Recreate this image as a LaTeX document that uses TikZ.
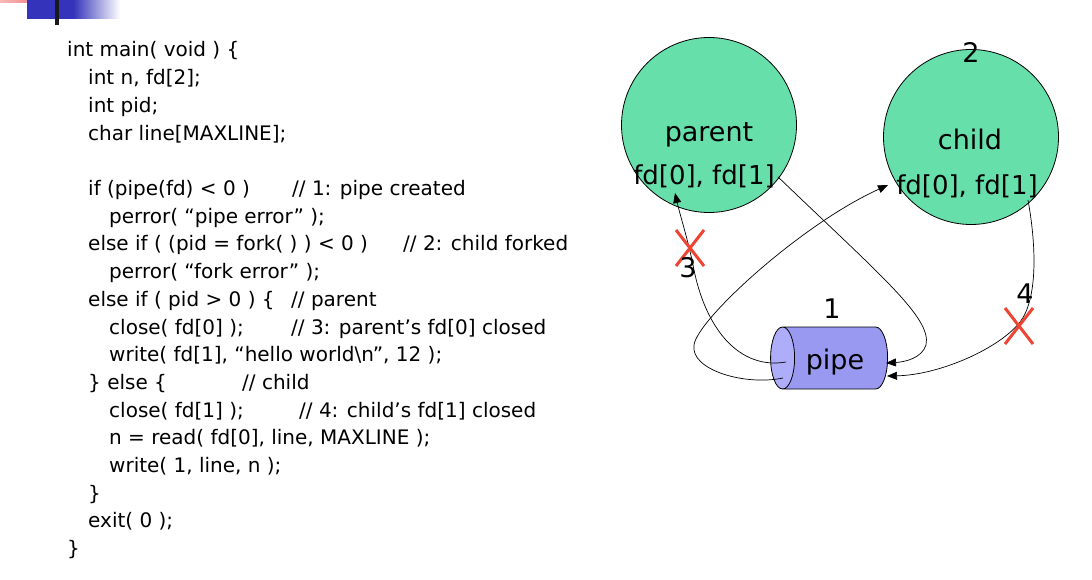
\documentclass[tikz,border=0pt]{standalone}
\usepackage{fontspec}
\setmainfont{DejaVu Sans}
\usetikzlibrary{arrows.meta,shapes.geometric,shapes.misc}
\definecolor{procfill}{HTML}{66DFAB}
\definecolor{pipebody}{HTML}{9999F2}
\definecolor{pipeface}{HTML}{ADADFA}
\definecolor{crossred}{HTML}{EE4433}
\definecolor{slideblue}{HTML}{3333BB}
\definecolor{slidepink}{HTML}{F07878}
\definecolor{slidepinklight}{HTML}{F8B8B8}

\begin{document}
\begin{tikzpicture}[
  x=1pt,
  y=-1pt,
  codeline/.style={anchor=base west, inner sep=0pt, font=\fontsize{20}{24}\selectfont},
  bigtext/.style={anchor=base, inner sep=0pt, font=\fontsize{27}{32}\selectfont},
  fdtext/.style={bigtext, font=\fontsize{26}{30}\selectfont},
  process/.style={circle, draw, line width=0.8pt, fill=procfill,
                  minimum size=175pt, inner sep=0pt},
  pipeshape/.style={cylinder, shape border rotate=180, aspect=3.6, draw,
                    line width=0.8pt, minimum height=117pt, minimum width=62pt,
                    cylinder uses custom fill, cylinder body fill=pipebody,
                    cylinder end fill=pipeface},
  flow/.style={line width=0.7pt, -{Triangle[length=10pt, width=8pt]}},
  closed/.style={cross out, draw=crossred, line width=3pt,
                 minimum width=25pt, minimum height=33pt, inner sep=0pt}
]
  \useasboundingbox (0,0) rectangle (1092,580);

  % ---- slide corner ------------------------------------------------------
  \shade[left color=slidepinklight, right color=slidepink] (0,0) rectangle (45,3);
  \fill[slideblue] (27,0) rectangle (74,19);
  \shade[left color=slideblue, right color=white] (73,0) rectangle (120,19);
  \fill[black!90] (55,0) rectangle (59,25);

  % ---- the program -------------------------------------------------------
  \foreach \row/\lvl/\txt in {
      0/0/{int main( void ) \{},
      1/1/{int n, fd[2];},
      2/1/{int pid;},
      3/1/{char line[MAXLINE];},
      5/1/{if (pipe(fd) < 0 )},
      6/2/{perror( “pipe error” );},
      7/1/{else if ( (pid = fork( ) ) < 0 )},
      8/2/{perror( “fork error” );},
      9/1/{else if ( pid > 0 ) \{},
      10/2/{close( fd[0] );},
      11/2/{write( fd[1], “hello world\textbackslash n”, 12 );},
      12/1/{\} else \{},
      13/2/{close( fd[1] );},
      14/2/{n = read( fd[0], line, MAXLINE );},
      15/2/{write( 1, line, n );},
      16/1/{\}},
      17/1/{exit( 0 );},
      18/0/{\}}}
    \node[codeline] (line\row) at (67+21*\lvl, 57+27.7*\row) {\txt};
  % comments
  \node[codeline] (cmt1) at (292,195.5) {// 1: pipe created};
  \node[codeline] (cmt2) at (403,250.9) {// 2: child forked};
  \node[codeline] (cmt3) at (291,306.3) {// parent};
  \node[codeline] (cmt4) at (291,334.0) {// 3: parent’s fd[0] closed};
  \node[codeline] (cmt5) at (242,389.4) {// child};
  \node[codeline] (cmt6) at (299,417.1) {// 4: child’s fd[1] closed};

  % ---- processes and pipe -----------------------------------------------
  \node[process] (parent) at (709,125) {};
  \node[process] (child) at (971,137) {};
  \node[bigtext] (ptitle) at (709,142) {parent};
  \node[fdtext] (pfd) at (704,185) {fd[0], fd[1]};
  \node[bigtext] (ctitle) at (970,150) {child};
  \node[fdtext] (cfd) at (967,195) {fd[0], fd[1]};

  \node[pipeshape] (pipe) at (838,358) {};
  \node[bigtext] (pipetext) at (835,369) {pipe};

  % ---- ends of the connectors ---------------------------------------------
  \coordinate (pin) at (675,193);
  \coordinate (cin) at (888,185);
  \coordinate (cout) at (1028,200);
  \coordinate (pipeout3) at (786,362);
  \coordinate (pipeout4) at (783,378);
  \coordinate (pipein1) at (886,363);
  \coordinate (pipein2) at (887,376);

  \draw[flow] ([xshift=3pt]pfd.east) .. controls (880,275) and (932,318) .. (926,345)
    .. controls (922,358) and (905,362) .. (pipein1);
  \draw[flow] (cout) .. controls (1037,250) and (1037,300) .. (1020,322)
    .. controls (1000,348) and (940,375) .. (pipein2);
  \draw[flow] (pipeout3) .. controls (740,370) and (705,330) .. (693,265)
    .. controls (688,240) and (680,215) .. (pin);
  \draw[flow] (pipeout4) .. controls (745,386) and (690,370) .. (694,345)
    .. controls (697,320) and (800,225) .. (cin);

  % ---- closed ends and step numbers ---------------------------------------
  \node[closed] (x3) at (690,248) {};
  \node[closed] (x4) at (1019,326) {};
  \node[bigtext] (n1) at (832,318) {1};
  \node[bigtext] (n2) at (971,63) {2};
  \node[bigtext] (n3) at (688,277) {3};
  \node[bigtext] (n4) at (1025,303) {4};
\end{tikzpicture}
\end{document}
